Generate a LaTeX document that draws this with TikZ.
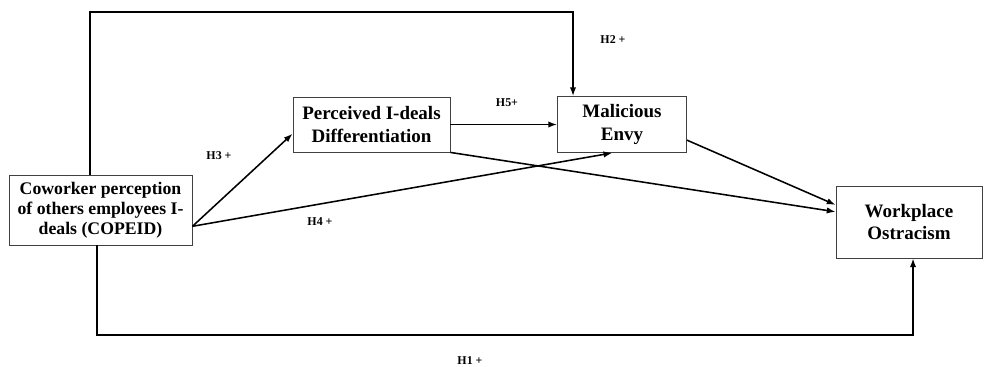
\documentclass[tikz,border=0pt]{standalone}
\usepackage{fontspec}
\setmainfont{Liberation Serif}
\usetikzlibrary{arrows.meta,positioning,calc}
\tikzset{
  var/.style={draw=black!75,line width=0.6pt,align=center,inner sep=2pt,
    font=\bfseries\fontsize{13.5}{16.3}\selectfont},
  hyp/.style={font=\bfseries\fontsize{8.5}{10}\selectfont},
  arr/.style={-{Latex[length=2.2mm,width=1.6mm]},line width=1.1pt,color=black},
}

\begin{document}
\begin{tikzpicture}[x=0.025cm,y=-0.025cm]
\useasboundingbox (0,0) rectangle (984,367);
\node[var,font=\bfseries\fontsize{12.6}{14.2}\selectfont,minimum width=4.575cm,minimum height=1.75cm] (copeid) at (100.5,210) {Coworker perception\\of others employees I-\\deals (COPEID)};
\node[var,minimum width=3.925cm,minimum height=1.375cm] (diff) at (371.5,124.5) {Perceived I-deals\\Differentiation};
\node[var,minimum width=3.225cm,minimum height=1.4cm] (envy) at (622,124.5) {Malicious\\Envy};
\node[var,minimum width=3.65cm,minimum height=1.8cm] (ostr) at (909,222) {Workplace\\Ostracism};
% H2 path over the top
\coordinate (topl) at (90,12);
\coordinate (topr) at (573,12);
\draw[arr] (copeid.north -| topl) -- (topl) -- (topr) -- (envy.north -| topr);
% H1 path along the bottom
\coordinate (botl) at (97,335);
\coordinate (botr) at (913,335);
\draw[arr] (copeid.south -| botl) -- (botl) -- (botr) -- (ostr.south -| botr);
\draw[arr] ($(copeid.east)!0.46!(copeid.south east)$) -- ($(diff.west)!0.33!(diff.south west)$);
\draw[arr] ($(copeid.east)!0.46!(copeid.south east)$) -- ($(envy.south)!0.15!(envy.south west)$);
\draw[arr] (diff.east) -- (envy.west);
\draw[arr] (diff.south east) -- ($(ostr.west)!0.28!(ostr.north west)$);
\draw[arr] ($(envy.east)!0.55!(envy.south east)$) -- ($(ostr.west)!0.47!(ostr.north west)$);
\node[hyp] (h1) at (470,361) {H1 +};
\node[hyp] (h2) at (613,40) {H2 +};
\node[hyp] (h3) at (219,156) {H3 +};
\node[hyp] (h4) at (320,222) {H4 +};
\node[hyp] (h5) at (507,103) {H5+};
\end{tikzpicture}
\end{document}
